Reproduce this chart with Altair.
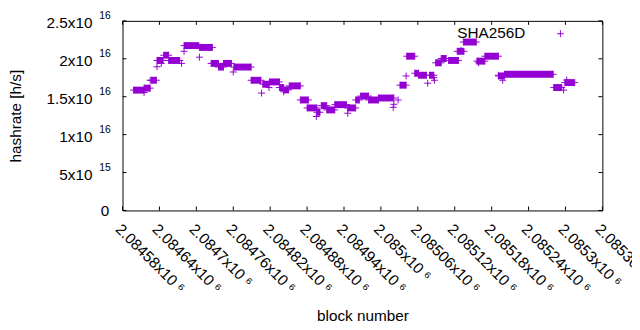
import json
import altair as alt
import pandas as pd

COLOR = "#9400D3"
FONT = "Liberation Sans"
FS = 15.5

series_names = ["SHA256D"]

# piecewise-constant runs of blocks (start block, end block, hashrate in 1e16 h/s)
seg_start = [2084598, 2084615, 2084627, 2084636, 2084647, 2084655, 2084680, 2084705,
             2084724, 2084736, 2084744, 2084761, 2084789, 2084808, 2084819, 2084835,
             2084842, 2084851, 2084869, 2084880, 2084896, 2084903, 2084912, 2084925,
             2084946, 2084959, 2084967, 2084980, 2084996, 2085031, 2085042, 2085055,
             2085061, 2085079, 2085089, 2085098, 2085110, 2085124, 2085134, 2085156,
             2085169, 2085191, 2085201, 2085281, 2085299]
seg_end = [2084615, 2084625, 2084635, 2084646, 2084655, 2084673, 2084704, 2084726,
           2084736, 2084744, 2084757, 2084789, 2084805, 2084818, 2084835, 2084842,
           2084850, 2084869, 2084882, 2084896, 2084901, 2084912, 2084925, 2084944,
           2084959, 2084965, 2084980, 2084996, 2085021, 2085041, 2085055, 2085061,
           2085074, 2085086, 2085098, 2085106, 2085126, 2085135, 2085155, 2085169,
           2085191, 2085201, 2085280, 2085294, 2085315]
seg_rate = [1.587, 1.613, 1.717, 1.978, 2.047, 1.978, 2.174, 2.150,
            1.939, 1.891, 1.939, 1.891, 1.717, 1.665, 1.695, 1.621,
            1.590, 1.643, 1.457, 1.352, 1.295, 1.382, 1.326, 1.395,
            1.352, 1.457, 1.508, 1.457, 1.483, 1.652, 2.034, 1.809,
            1.783, 1.783, 1.947, 2.004, 1.978, 2.099, 2.221, 1.969,
            2.034, 1.774, 1.796, 1.621, 1.686]

# isolated blocks (block, hashrate in 1e16 h/s)
pt_block = [2084615, 2084625, 2084636, 2084643, 2084676, 2084680, 2084705, 2084760,
            2084806, 2084818, 2084842, 2084895, 2084946, 2085020, 2085021, 2085028,
            2085041, 2085076, 2085086, 2085087, 2085130, 2085159, 2085191, 2085198,
            2085297, 2085302]
pt_rate = [1.556, 1.717, 1.895, 1.939, 1.939, 2.099, 2.021, 1.826,
           1.548, 1.621, 1.565, 1.239, 1.282, 1.360, 1.400, 1.457,
           1.774, 1.678, 1.752, 1.717, 2.109, 1.947, 1.783, 1.717,
           1.587, 1.720]

x_ticks = [2084580, 2084640, 2084700, 2084760, 2084820, 2084880, 2084940,
           2085000, 2085060, 2085120, 2085180, 2085240, 2085300, 2085360]
x_tick_labels = ["2.08458x10 ⁶", "2.08464x10 ⁶", "2.0847x10 ⁶", "2.08476x10 ⁶",
                 "2.08482x10 ⁶", "2.08488x10 ⁶", "2.08494x10 ⁶", "2.085x10 ⁶",
                 "2.08506x10 ⁶", "2.08512x10 ⁶", "2.08518x10 ⁶", "2.08524x10 ⁶",
                 "2.0853x10 ⁶", "2.08536x10 ⁶"]
y_ticks = [0, 5e15, 1e16, 1.5e16, 2e16, 2.5e16]
y_tick_mantissa = ["0", "5x10", "1x10", "1.5x10", "2x10", "2.5x10"]
y_tick_exponent = ["", "15", "16", "16", "16", "16"]

W, H = 486, 192
TICK = 4

seg_df = pd.DataFrame({"block": seg_start, "block_end": seg_end,
                       "rate": [r * 1e16 for r in seg_rate]})
pts_df = pd.DataFrame({
    "block": seg_start + seg_end + pt_block,
    "rate": [r * 1e16 for r in seg_rate + seg_rate + pt_rate],
})
xt_df = pd.DataFrame({"block": x_ticks})
yt_df = pd.DataFrame({"rate": y_ticks, "exp": y_tick_exponent})
leg_df = pd.DataFrame({"name": series_names})

x_expr = "%s[indexof(%s, datum.value)]" % (
    json.dumps(x_tick_labels, ensure_ascii=False), json.dumps(x_ticks))
y_expr = "%s[indexof(%s, datum.value)]" % (
    json.dumps(y_tick_mantissa, ensure_ascii=False), json.dumps(y_ticks))

x_scale = alt.Scale(domain=[x_ticks[0], x_ticks[-1]], nice=False, zero=False)
y_scale = alt.Scale(domain=[y_ticks[0], y_ticks[-1]], nice=False, zero=False)

x_axis = alt.Axis(values=x_ticks, labelExpr=x_expr, labelAngle=45, labelAlign="left",
                  labelBaseline="top", labelPadding=11, ticks=False, domain=False,
                  grid=False, labelOverlap=False, labelFlush=False,
                  title="block number", titleY=111, titleBaseline="alphabetic")
y_axis = alt.Axis(values=y_ticks, labelExpr=y_expr, ticks=False, domain=False,
                  grid=False,
                  labelPadding={"condition": {"test": "datum.value == 0", "value": 14},
                                "value": 31},
                  labelOffset={"condition": {"test": "datum.value == 0", "value": 0},
                               "value": 2},
                  labelOverlap=False, labelFlush=False,
                  title="hashrate [h/s]", titleX=-108, titleY=H / 2,
                  titleAngle=270, titleBaseline="middle", titleAlign="center")


def X(field="block"):
    return alt.X(f"{field}:Q", scale=x_scale, axis=x_axis)


def Y(field="rate"):
    return alt.Y(f"{field}:Q", scale=y_scale, axis=y_axis)


cross = "M-1,0H1M0,-1V1"

bars = alt.Chart(seg_df).mark_rule(color=COLOR, strokeWidth=7, strokeCap="butt").encode(
    x=X(), x2="block_end:Q", y=Y())

points = alt.Chart(pts_df).mark_point(shape=cross, filled=False, color=COLOR,
                                      strokeWidth=1, size=49, opacity=1).encode(
    x=X(), y=Y())

xt_bottom = alt.Chart(xt_df).mark_rule(color="black", strokeWidth=1).encode(
    x=X(), y=alt.value(H), y2=alt.value(H - TICK))
xt_top = alt.Chart(xt_df).mark_rule(color="black", strokeWidth=1).encode(
    x=X(), y=alt.value(0), y2=alt.value(TICK))
yt_left = alt.Chart(yt_df).mark_rule(color="black", strokeWidth=1).encode(
    y=Y(), x=alt.value(0), x2=alt.value(TICK))
yt_right = alt.Chart(yt_df).mark_rule(color="black", strokeWidth=1).encode(
    y=Y(), x=alt.value(W), x2=alt.value(W - TICK))

# superscript exponents of the y tick labels
y_exp = alt.Chart(yt_df).mark_text(align="right", baseline="middle", font=FONT,
                                   fontSize=10.5, color="black", dy=-5).encode(
    y=Y(), x=alt.value(-12), text="exp:N")

leg_text = alt.Chart(leg_df).mark_text(align="right", baseline="middle", font=FONT,
                                       fontSize=FS, color="black").encode(
    text="name:N", x=alt.value(408), y=alt.value(12))
leg_sym = alt.Chart(leg_df).mark_point(shape=cross, filled=False, color=COLOR,
                                       strokeWidth=1, size=49, opacity=1).encode(
    x=alt.value(443.5), y=alt.value(13))

chart = alt.layer(bars, points, xt_bottom, xt_top, yt_left, yt_right, y_exp,
                  leg_text, leg_sym).properties(
    width=W, height=H,
    autosize=alt.AutoSizeParams(type="none"),
    padding={"left": 116, "top": 11, "right": 30, "bottom": 116},
    background="white",
).configure_view(
    stroke="black", strokeWidth=1
).configure_axis(
    labelFont=FONT, titleFont=FONT, labelFontSize=FS, titleFontSize=FS,
    labelColor="black", titleColor="black", titleFontWeight="normal",
)

chart.save("out.html", embed_options={"renderer": "svg", "actions": False})
